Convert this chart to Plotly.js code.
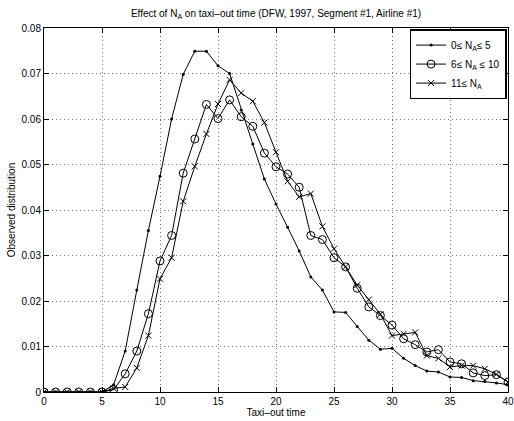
<!DOCTYPE html>
<html>
<head>
<meta charset="utf-8">
<script src="https://cdn.plot.ly/plotly-3.0.1.min.js"></script>
<style>html,body{margin:0;padding:0;background:#fff;}#chart{width:514px;height:421px;}</style>
</head>
<body>
<div id="chart"></div>
<script>
const taxiTime = [0,1,2,3,4,5,6,7,8,9,10,11,12,13,14,15,16,17,18,19,20,21,22,23,24,25,26,27,28,29,30,31,32,33,34,35,36,37,38,39,40];
const seriesNames = ["0≤ N<sub>A</sub>≤ 5", "6≤ N<sub>A</sub> ≤ 10", "11≤ N<sub>A</sub>"];
const lowNA = [0,0,0,0,0,0,0.0016,0.0090,0.0224,0.0355,0.0474,0.0600,0.0698,0.0749,0.0749,0.0717,0.0700,0.0620,0.0545,0.0468,0.0413,0.0362,0.0310,0.0253,0.0224,0.0176,0.0175,0.0144,0.0114,0.0094,0.0096,0.0074,0.0058,0.0046,0.0044,0.0033,0.0032,0.0025,0.0023,0.0020,0.0016];
const midNA = [0,0,0,0,0,0,0.0005,0.0040,0.0090,0.0172,0.0288,0.0344,0.0481,0.0556,0.0632,0.0601,0.0642,0.0605,0.0584,0.0525,0.0495,0.0479,0.0450,0.0344,0.0335,0.0295,0.0275,0.0228,0.0187,0.0168,0.0147,0.0117,0.0104,0.0088,0.0093,0.0066,0.0062,0.0042,0.0036,0.0038,0.0022];
const highNA = [0,0,0,0,0,0,0.0008,0.0011,0.0053,0.0124,0.0249,0.0295,0.0419,0.0496,0.0567,0.0633,0.0686,0.0657,0.0639,0.0592,0.0527,0.0463,0.0429,0.0436,0.0364,0.0315,0.0275,0.0235,0.0203,0.0171,0.0124,0.0128,0.0131,0.0080,0.0074,0.0055,0.0058,0.0058,0.0051,0.0039,0.0022];

const font = {family: '"Liberation Sans", Arial, Helvetica, sans-serif', size: 10, color: '#000'};

const traces = [
  {x: taxiTime, y: lowNA, name: seriesNames[0], mode: 'lines+markers',
   line: {color: '#000', width: 1}, marker: {symbol: 'circle', size: 3, color: '#000'}},
  {x: taxiTime, y: midNA, name: seriesNames[1], mode: 'lines+markers',
   line: {color: '#000', width: 1}, marker: {symbol: 'circle-open', size: 8, color: '#000', line: {width: 1}}},
  {x: taxiTime, y: highNA, name: seriesNames[2], mode: 'lines+markers',
   line: {color: '#000', width: 1}, marker: {symbol: 'x-thin-open', size: 6, color: '#000', line: {width: 1, color: '#000'}}}
];

const axisCommon = {
  showline: true, linecolor: '#000', linewidth: 1, mirror: 'ticks',
  ticks: 'inside', ticklen: 5, tickcolor: '#000', tickwidth: 1,
  showgrid: true, gridcolor: '#777', griddash: '1px,3px', gridwidth: 1,
  zeroline: false, tickfont: font
};

const layout = {
  width: 514, height: 421,
  paper_bgcolor: '#fff', plot_bgcolor: '#fff',
  margin: {l: 44, r: 6, t: 28, b: 29},
  font: font,
  title: {text: 'Effect of N<sub>A</sub> on taxi–out time (DFW, 1997, Segment #1, Airline #1)',
          font: {family: font.family, size: 10, color: '#000'},
          x: 0.5, xref: 'paper', y: 1 - 13/421, yref: 'container', yanchor: 'middle'},
  xaxis: Object.assign({}, axisCommon, {range: [0, 40], dtick: 5, tick0: 0,
          title: {text: 'Taxi–out time', font: font, standoff: 1}}),
  yaxis: Object.assign({}, axisCommon, {range: [0, 0.08], dtick: 0.01, tick0: 0,
          title: {text: 'Observed distribution', font: font, standoff: 4}}),
  showlegend: true,
  legend: {x: 0.997, xanchor: 'right', y: 0.997, yanchor: 'top',
           bgcolor: '#fff', bordercolor: '#000', borderwidth: 1.5,
           font: font, tracegroupgap: 0, itemwidth: 30}
};

Plotly.newPlot('chart', traces, layout, {displayModeBar: false, staticPlot: true});
</script>
</body>
</html>
